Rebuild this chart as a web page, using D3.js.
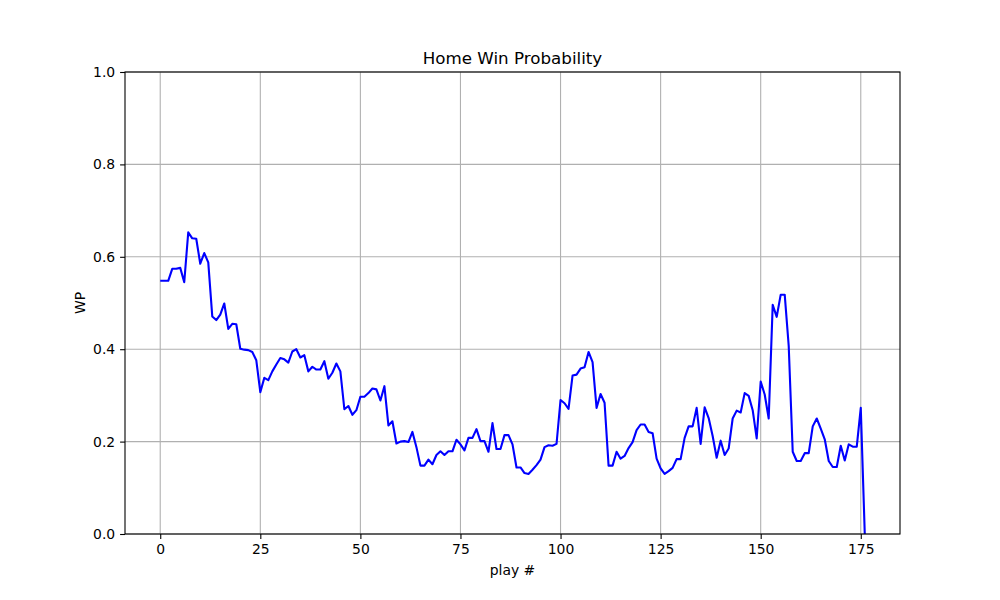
<!DOCTYPE html>
<html lang="en">
<head>
  <meta charset="UTF-8">
  <title>Home Win Probability</title>
  <style>
    body { margin: 0; background: #fff; }
    svg text { font-family: "DejaVu Sans", sans-serif; fill: #000; }
  </style>
  <script src="https://d3js.org/d3.v7.min.js"></script>
</head>
<body>
<div id="chart"></div>
<script>
  // win probability per play (index = play #)
  var wp = [
    0.548, 0.548, 0.548, 0.574, 0.574, 0.576, 0.545, 0.653, 0.640, 0.639,
    0.585, 0.608, 0.588, 0.471, 0.463, 0.475, 0.499, 0.444, 0.455, 0.454,
    0.401, 0.399, 0.398, 0.394, 0.376, 0.307, 0.338, 0.333, 0.352, 0.367,
    0.381, 0.378, 0.371, 0.395, 0.400, 0.382, 0.387, 0.352, 0.362, 0.356,
    0.356, 0.374, 0.336, 0.349, 0.369, 0.352, 0.270, 0.277, 0.258, 0.268,
    0.297, 0.297, 0.305, 0.315, 0.313, 0.289, 0.320, 0.235, 0.244, 0.196,
    0.200, 0.201, 0.199, 0.221, 0.188, 0.148, 0.148, 0.161, 0.151, 0.171,
    0.179, 0.171, 0.179, 0.179, 0.204, 0.194, 0.181, 0.208, 0.208, 0.227,
    0.201, 0.201, 0.178, 0.240, 0.184, 0.184, 0.214, 0.214, 0.194, 0.144,
    0.144, 0.132, 0.130, 0.139, 0.149, 0.161, 0.188, 0.192, 0.191, 0.195,
    0.290, 0.283, 0.271, 0.343, 0.345, 0.358, 0.361, 0.394, 0.372, 0.273,
    0.303, 0.284, 0.148, 0.148, 0.178, 0.163, 0.169, 0.186, 0.199, 0.225,
    0.237, 0.237, 0.221, 0.218, 0.163, 0.142, 0.130, 0.136, 0.143, 0.162,
    0.162, 0.208, 0.233, 0.233, 0.273, 0.195, 0.274, 0.251, 0.212, 0.165,
    0.202, 0.171, 0.185, 0.250, 0.267, 0.263, 0.305, 0.299, 0.268, 0.207,
    0.330, 0.302, 0.250, 0.496, 0.470, 0.518, 0.518, 0.407, 0.178, 0.158,
    0.158, 0.175, 0.175, 0.233, 0.250, 0.228, 0.205, 0.158, 0.145, 0.145,
    0.191, 0.159, 0.194, 0.189, 0.189, 0.273, 0.0
  ];
  var xTicks = [0, 25, 50, 75, 100, 125, 150, 175];
  var yTicks = [0.0, 0.2, 0.4, 0.6, 0.8, 1.0];

  var width = 1000, height = 600;
  var mLeft = 125, mRight = 900, mTop = 72, mBottom = 534;

  // matplotlib style 5% margin on x
  var n = wp.length - 1;
  var pad = n * 0.05;
  var x = d3.scaleLinear().domain([-pad, n + pad]).range([mLeft, mRight]);
  var y = d3.scaleLinear().domain([0, 1]).range([mBottom, mTop]);

  var svg = d3.select("#chart").append("svg")
      .attr("width", width)
      .attr("height", height);

  svg.append("defs").append("clipPath").attr("id", "clip")
    .append("rect")
      .attr("x", mLeft).attr("y", mTop)
      .attr("width", mRight - mLeft).attr("height", mBottom - mTop);

  // grid
  var grid = svg.append("g").attr("stroke", "#b0b0b0").attr("stroke-width", 1.1);
  grid.selectAll(".gx").data(xTicks).enter().append("line")
      .attr("x1", function(d) { return x(d); }).attr("x2", function(d) { return x(d); })
      .attr("y1", mTop).attr("y2", mBottom);
  grid.selectAll(".gy").data(yTicks).enter().append("line")
      .attr("x1", mLeft).attr("x2", mRight)
      .attr("y1", function(d) { return y(d); }).attr("y2", function(d) { return y(d); });

  // the line
  var line = d3.line()
      .x(function(d, i) { return x(i); })
      .y(function(d) { return y(d); });
  svg.append("path")
      .datum(wp)
      .attr("clip-path", "url(#clip)")
      .attr("d", line)
      .attr("fill", "none")
      .attr("stroke", "#0000ff")
      .attr("stroke-width", 2.1)
      .attr("stroke-linejoin", "round");

  // axes
  var xAxis = d3.axisBottom(x).tickValues(xTicks).tickSize(4.9).tickPadding(4.9)
      .tickFormat(d3.format("d"));
  var yAxis = d3.axisLeft(y).tickValues(yTicks).tickSize(4.9).tickPadding(4.9)
      .tickFormat(d3.format(".1f"));

  var gx = svg.append("g").attr("transform", "translate(0," + mBottom + ")").call(xAxis);
  var gy = svg.append("g").attr("transform", "translate(" + mLeft + ",0)").call(yAxis);
  [gx, gy].forEach(function(g) {
    g.select(".domain").remove();
    g.selectAll(".tick line").attr("stroke", "#000").attr("stroke-width", 1.1);
    g.selectAll(".tick text").attr("font-size", "13.9px")
      .style("font-family", "'DejaVu Sans', sans-serif");
  });

  // frame
  svg.append("rect")
      .attr("x", mLeft).attr("y", mTop)
      .attr("width", mRight - mLeft).attr("height", mBottom - mTop)
      .attr("fill", "none").attr("stroke", "#000").attr("stroke-width", 1.1);

  // labels
  svg.append("text")
      .attr("x", (mLeft + mRight) / 2).attr("y", mTop - 8)
      .attr("text-anchor", "middle").attr("font-size", "16.7px")
      .text("Home Win Probability");
  svg.append("text")
      .attr("x", (mLeft + mRight) / 2).attr("y", 575)
      .attr("text-anchor", "middle").attr("font-size", "13.9px")
      .text("play #");
  svg.append("text")
      .attr("transform", "translate(85," + ((mTop + mBottom) / 2) + ") rotate(-90)")
      .attr("text-anchor", "middle").attr("font-size", "13.9px")
      .text("WP");
</script>
</body>
</html>
